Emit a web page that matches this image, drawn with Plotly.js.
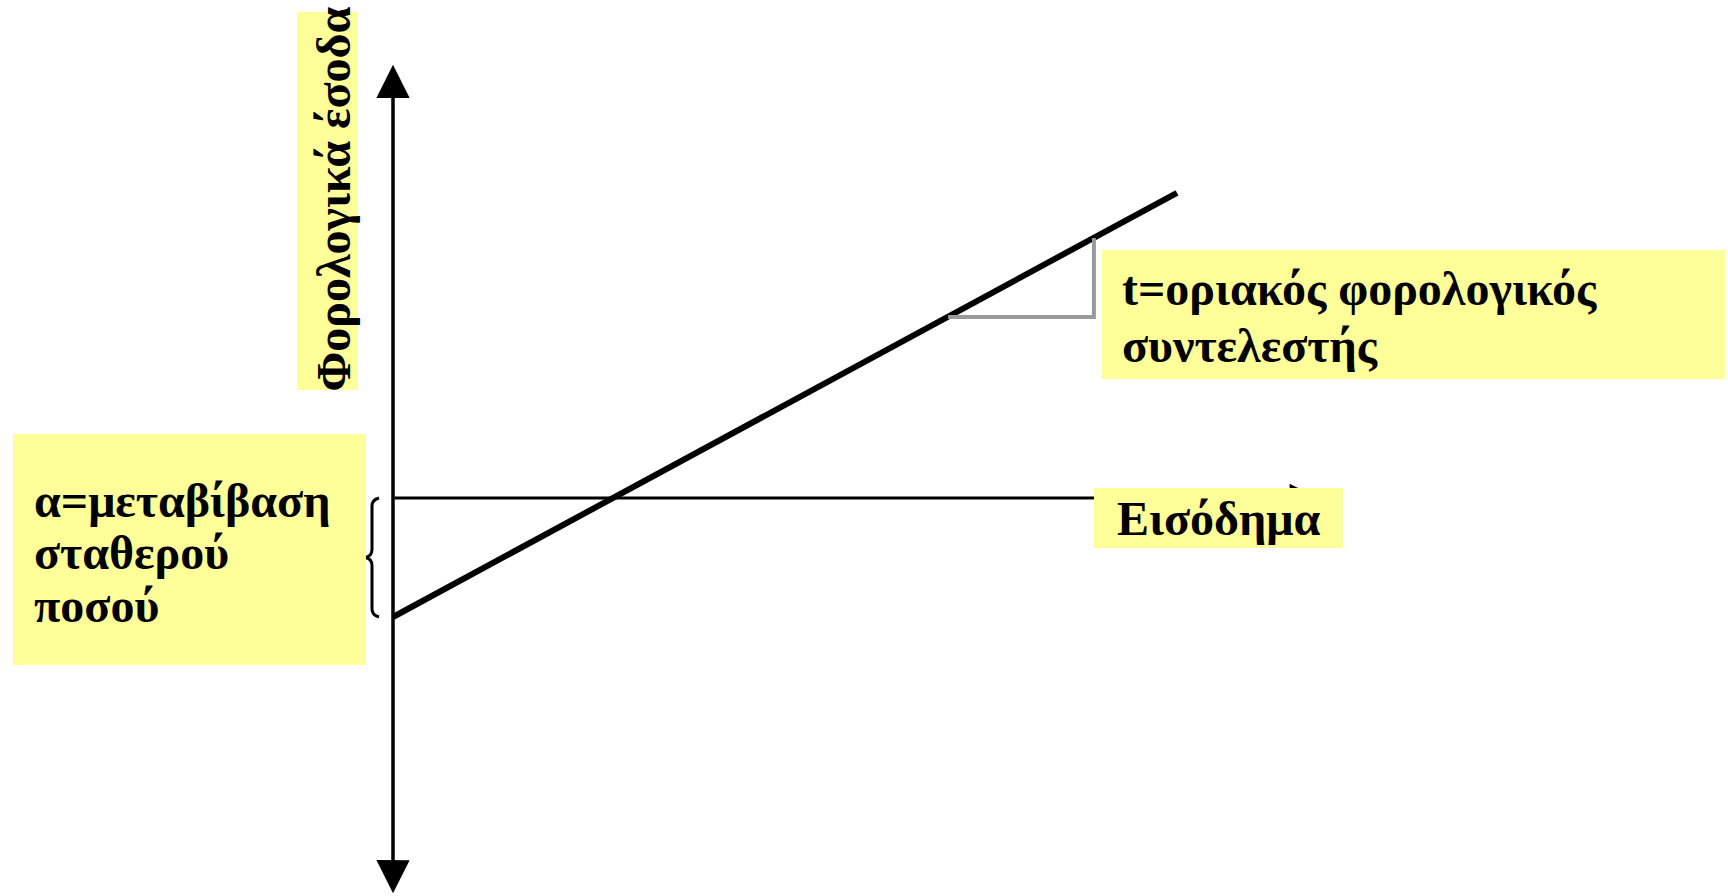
<!DOCTYPE html>
<html>
<head>
<meta charset="utf-8">
<script src="https://cdn.plot.ly/plotly-3.0.1.min.js"></script>
<style>html,body{margin:0;padding:0;background:#fff;overflow:hidden}#chart{width:1728px;height:896px}</style>
</head>
<body>
<div id="chart"></div>
<script>
// ---- data (conceptual units) ----
const incomeX = [0, 10];            // income
const taxY = [-2, 5.13];            // tax revenue T = -a + t*Y
const transferA = 2;                // a = lump-sum transfer
const slopeTriX = [7.08, 8.94, 8.94];
const slopeTriY = [3.04, 3.04, 4.37];
const vAxisY = [-6.67, 7.28];       // vertical axis extent
const hAxisX = [0, 11.8];           // horizontal axis extent
const yTitle = 'Φορολογικά έσοδα';
const xTitle = 'Εισόδημα';
const aLines = ['α=μεταβίβαση', 'σταθερού', 'ποσού'];
const tLines = ['t=οριακός φορολογικός', 'συντελεστής'];

// ---- layout helpers ----
const W = 1728, H = 896;
const X0 = 393, XU = 78.4, Y0 = 498, YU = 59.5;
const px = x => x / W, py = y => 1 - y / H;
const FONT = 'Liberation Serif, Times New Roman, serif';
const FS = 48;
const YEL = '#ffff99';

const traces = [
  {x: incomeX, y: taxY, mode: 'lines', line: {color: '#000', width: 6}, hoverinfo: 'skip'},
  {x: slopeTriX, y: slopeTriY, mode: 'lines', line: {color: '#999999', width: 4}, hoverinfo: 'skip'}
];

function box(x0, y0, x1, y1) {
  return {xref: 'paper', yref: 'paper', x: px(x0), y: py(y0), xanchor: 'left', yanchor: 'top',
    text: ' ', showarrow: false, width: x1 - x0, height: y1 - y0, bgcolor: YEL,
    borderpad: 0, borderwidth: 0};
}
function label(txt, x, baseline) {
  return {xref: 'paper', yref: 'paper', x: px(x), y: py(baseline - 0.34 * FS),
    xanchor: 'left', yanchor: 'middle', text: '<b>' + txt + '</b>', showarrow: false,
    font: {family: FONT, size: FS, color: '#000'}, borderpad: 0};
}

const arrowCommon = {xref: 'x', yref: 'y', axref: 'x', ayref: 'y', text: '', showarrow: true,
  arrowcolor: '#000', arrowwidth: 3.5, arrowhead: 2, arrowsize: 1.9, standoff: 0, startstandoff: 0};

const annotations = [
  Object.assign({}, arrowCommon, {x: 0, y: vAxisY[1], ax: 0, ay: vAxisY[0], arrowside: 'end+start',
    startarrowhead: 2, startarrowsize: 1.9}),
  Object.assign({}, arrowCommon, {x: hAxisX[1], y: 0, ax: hAxisX[0], ay: 0, arrowside: 'end', arrowwidth: 3}),
  box(297, 12, 358, 390),
  box(13, 434, 366, 665),
  box(1102, 250, 1725, 379),
  box(1094, 488, 1343, 548),
  {xref: 'paper', yref: 'paper', x: px(333), y: py(393), xanchor: 'center', yanchor: 'bottom',
    text: '<b>' + yTitle + '</b>', textangle: -90, showarrow: false,
    font: {family: FONT, size: FS, color: '#000'}, borderpad: 0},
  label(aLines[0], 33, 517), label(aLines[1], 33, 569), label(aLines[2], 33, 622),
  label(tLines[0], 1121, 305), label(tLines[1], 1121, 362),
  label(xTitle, 1116, 535)
];

// curly brace marking the intercept a
const bx = d => d / XU, bTop = 0, bBot = -transferA, bMid = -transferA / 2, k = 8 / YU;
const bracePath = `M${bx(-14)},${bTop} Q${bx(-21)},${bTop - 0.03} ${bx(-21)},${bTop - k}` +
  ` L${bx(-21)},${bMid + k} Q${bx(-21)},${bMid + 0.02} ${bx(-28)},${bMid}` +
  ` Q${bx(-21)},${bMid - 0.02} ${bx(-21)},${bMid - k}` +
  ` L${bx(-21)},${bBot + k} Q${bx(-21)},${bBot + 0.03} ${bx(-14)},${bBot}`;

const layout = {
  width: W, height: H, margin: {l: 0, r: 0, t: 0, b: 0, pad: 0},
  paper_bgcolor: '#fff', plot_bgcolor: '#fff', showlegend: false,
  xaxis: {range: [-X0 / XU, (W - X0) / XU], visible: false, fixedrange: true},
  yaxis: {range: [-(H - Y0) / YU, Y0 / YU], visible: false, fixedrange: true},
  shapes: [{type: 'path', xref: 'x', yref: 'y', path: bracePath, line: {color: '#000', width: 3}}],
  annotations: annotations
};

Plotly.newPlot('chart', traces, layout, {displayModeBar: false, staticPlot: true});
</script>
</body>
</html>
